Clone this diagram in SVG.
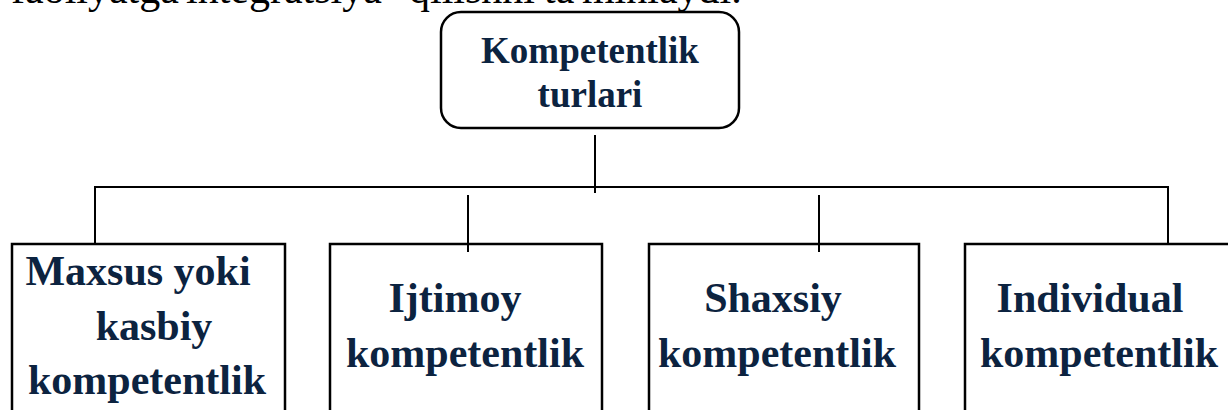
<svg xmlns="http://www.w3.org/2000/svg" width="1228" height="410" viewBox="0 0 1228 410">
<style>
.body{font-family:"Liberation Serif","Times New Roman",serif;font-size:42px;fill:#000}
.lbl{font-family:"Liberation Serif","Times New Roman",serif;font-weight:bold;font-size:42px;fill:#0c2340;text-anchor:middle}
.ttl{font-family:"Liberation Serif","Times New Roman",serif;font-weight:bold;font-size:37px;fill:#0c2340;text-anchor:middle}
.box{fill:#fff;stroke:#000;stroke-width:2.5}
.ln{stroke:#000;stroke-width:2;fill:none}
</style>
<rect width="1228" height="410" fill="#fff"/>
<text class="body" y="3"><tspan x="11">faoliyatga</tspan><tspan x="186">integratsiya</tspan><tspan x="409">qilishni</tspan><tspan x="544">ta'minlaydi.</tspan></text>
<g id="connectors">
<line class="ln" x1="595" y1="135" x2="595" y2="193"/>
<polyline class="ln" points="95,244 95,187 1168,187 1168,244"/>
<line class="ln" x1="468" y1="195" x2="468" y2="252"/>
<line class="ln" x1="819" y1="195" x2="819" y2="252"/>
</g>
<g id="node-root">
<rect class="box" x="441" y="12" width="298" height="116" rx="20"/>
<text class="ttl" x="590" y="63">Kompetentlik</text>
<text class="ttl" x="590" y="107">turlari</text>
</g>
<g id="node-maxsus">
<rect class="box" x="12" y="244" width="273" height="180"/>
<text class="lbl" x="138" y="285">Maxsus yoki</text>
<text class="lbl" x="154" y="340">kasbiy</text>
<text class="lbl" x="147" y="394">kompetentlik</text>
</g>
<g id="node-ijtimoy">
<rect class="box" x="330" y="244" width="272" height="180"/>
<line class="ln" x1="468" y1="244" x2="468" y2="252"/>
<text class="lbl" x="455" y="312">Ijtimoy</text>
<text class="lbl" x="465" y="367">kompetentlik</text>
</g>
<g id="node-shaxsiy">
<rect class="box" x="649" y="244" width="270" height="180"/>
<line class="ln" x1="819" y1="244" x2="819" y2="252"/>
<text class="lbl" x="773" y="312">Shaxsiy</text>
<text class="lbl" x="777" y="367">kompetentlik</text>
</g>
<g id="node-individual">
<rect class="box" x="965" y="244" width="280" height="180"/>
<text class="lbl" x="1090" y="312">Individual</text>
<text class="lbl" x="1099" y="367">kompetentlik</text>
</g>
</svg>
